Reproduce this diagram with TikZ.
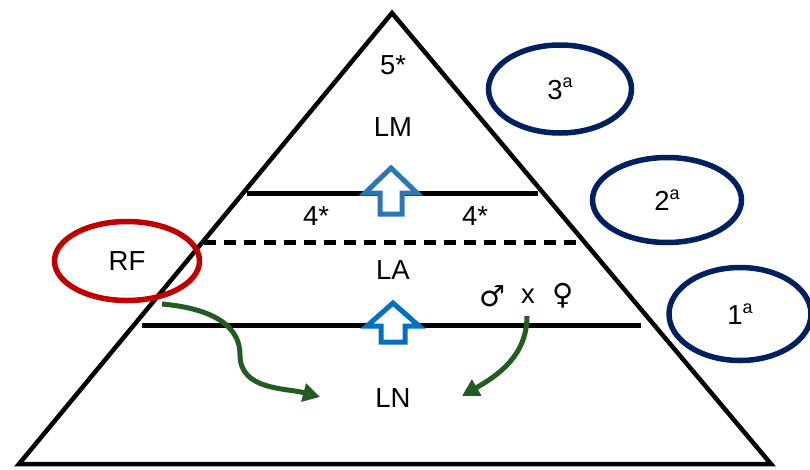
\documentclass[tikz,border=0pt]{standalone}
\usepackage{fontspec}
\setmainfont{Liberation Sans}
\newfontfamily\symbfont{DejaVu Sans}
\usetikzlibrary{shapes.geometric,arrows.meta}
\definecolor{darknavy}{HTML}{002060}
\definecolor{darkred}{HTML}{C00000}
\definecolor{darkgreen}{HTML}{235B23}
\definecolor{steelblue}{HTML}{2E75B6}
\definecolor{brightblue}{HTML}{0070C0}
\newcommand{\ordsup}[1]{\raisebox{0.42em}{\fontsize{18}{18}\selectfont #1}}
\begin{document}
\begin{tikzpicture}[x=1pt,y=-1pt,
    every node/.style={font=\fontsize{27.5}{30}\selectfont},
    gen/.style={ellipse, draw=darknavy, line width=5.5pt, inner sep=0pt},
    hollowup/.style={line width=5pt, fill=white, line join=miter},
    link/.style={draw=darkgreen, line width=5pt, -{Triangle[length=17pt,width=18pt]}}]
      \useasboundingbox (0,0) rectangle (810,469);

      \coordinate (apex) at (392,13);
      \coordinate (bl) at (19,464);
      \coordinate (br) at (771,464);
      \coordinate (m0) at (247,193);
      \coordinate (m1) at (538,193);
      \coordinate (d0) at (204,242);
      \coordinate (d1) at (583,242);
      \coordinate (n0) at (142,325);
      \coordinate (n1) at (641,325);

      \draw[line width=4.5pt, line join=miter] (apex)--(bl)--(br)--cycle;
      \draw[line width=5pt] (m0)--(m1);
      \draw[line width=5pt, dash pattern=on 12pt off 8pt] (d0)--(d1);
      \draw[line width=5pt] (n0)--(n1);

      \filldraw[hollowup, draw=steelblue]
      (391,168)--(417,193)--(402,193)--(402,214)--(380,214)--(380,193)--(365,193)--cycle;
      \filldraw[hollowup, draw=brightblue]
      (393,303)--(419,326)--(405,326)--(405,342)--(381,342)--(381,326)--(367,326)--cycle;

      \node (five) at (393,65) {5*};
      \node (lm) at (393,127) {LM};
      \node (fourl) at (316,216) {4*};
      \node (fourr) at (475,216) {4*};
      \node (la) at (393,270) {LA};
      \node (ln) at (393,398) {LN};
      \node[font=\symbfont\fontsize{29}{30}\selectfont] (male) at (492,296) {♂};
      \node (cross) at (528,296) {x};
      \node[font=\symbfont\fontsize{29}{30}\selectfont] (female) at (563,296) {♀};

      \node[ellipse, draw=darkred, line width=5.5pt, inner sep=0pt,
        minimum width=145pt, minimum height=79pt] (rf) at (127,261) {RF};
      \node[gen, minimum width=143pt, minimum height=88pt] (third) at (560,89) {3\ordsup{a}};
      \node[gen, minimum width=149pt, minimum height=85pt] (second) at (667,200) {2\ordsup{a}};
      \node[gen, minimum width=142pt, minimum height=93pt] (first) at (740,314) {1\ordsup{a}};

      \coordinate (fromrf) at (162,304);
      \coordinate (bend) at (240,355);
      \coordinate (toln0) at (320,397);
      \coordinate (fromcross) at (527,316);
      \coordinate (toln1) at (462,396);

      \draw[link] (fromrf) to[out=-5, in=90] (bend) to[out=-90, in=165] (toln0);
      \draw[link] (fromcross) to[out=-90, in=30] (toln1);
    \end{tikzpicture}
\end{document}
